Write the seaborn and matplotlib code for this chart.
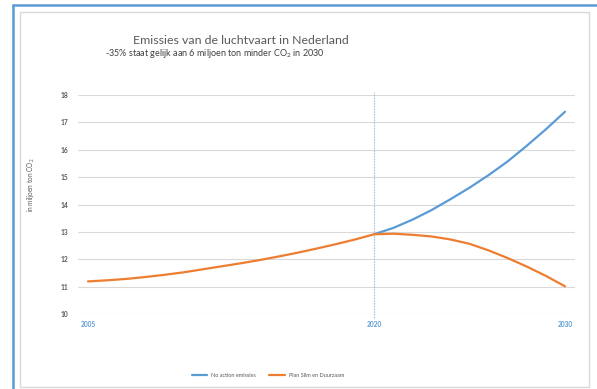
import matplotlib
matplotlib.use('Agg')
import matplotlib.pyplot as plt
import pandas as pd
import seaborn as sns
from matplotlib.lines import Line2D
from matplotlib.patches import Rectangle

# data
jaren_plan = [2005, 2006, 2007, 2008, 2009, 2010, 2011, 2012, 2013, 2014, 2015,
              2016, 2017, 2018, 2019, 2020, 2021, 2022, 2023, 2024, 2025,
              2026, 2027, 2028, 2029, 2030]
plan_slim = [11.20, 11.24, 11.29, 11.36, 11.44, 11.53, 11.64, 11.75, 11.86, 11.98, 12.11,
             12.25, 12.40, 12.56, 12.73, 12.92, 12.94, 12.90, 12.84, 12.73, 12.57,
             12.33, 12.05, 11.74, 11.40, 11.02]
jaren_no_action = [2020, 2021, 2022, 2023, 2024, 2025, 2026, 2027, 2028, 2029, 2030]
no_action = [12.92, 13.15, 13.45, 13.80, 14.20, 14.62, 15.08, 15.58, 16.15, 16.75, 17.39]
x_ticks = [2005, 2020, 2030]
y_ticks = [10, 11, 12, 13, 14, 15, 16, 17, 18]

df = pd.concat([
    pd.DataFrame({'jaar': jaren_no_action, 'uitstoot': no_action, 'scenario': 'No action emissies'}),
    pd.DataFrame({'jaar': jaren_plan, 'uitstoot': plan_slim, 'scenario': 'Plan Slim en Duurzaam'}),
])

sns.set_style('white')
plt.rcParams['font.family'] = ['Lato', 'DejaVu Sans']
plt.rcParams['mathtext.fontset'] = 'custom'
plt.rcParams['mathtext.rm'] = 'Lato'

W, H = 597, 389
fig = plt.figure(figsize=(W / 100, H / 100), dpi=100)
ax = fig.add_axes([78 / W, 1 - 314.3 / H, (575 - 78) / W, (314.3 - 95) / H])

sns.lineplot(data=df, x='jaar', y='uitstoot', hue='scenario',
             palette=['#5B9BD5', '#ED7D31'], linewidth=1.6, ax=ax, legend=False)

ax.axvline(2020, ymin=-0.015, ymax=1.013, color='#9DC3E6', linestyle=(0, (1.5, 1)),
           linewidth=0.8, clip_on=False, zorder=1)

ax.set_xlim(2004.476, 2030.524)
ax.set_ylim(10, 18)
ax.set_xticks(x_ticks)
ax.set_yticks(y_ticks)
ax.set_xticklabels([str(t) for t in x_ticks], color='#5B9BD5', fontsize=4.8, fontweight='bold')
ax.set_yticklabels([str(t) for t in y_ticks], color='#595959', fontsize=4.8, fontweight='bold')
ax.tick_params(axis='x', length=0, pad=5)
ax.tick_params(axis='y', length=0, pad=7)
ax.grid(axis='y', color='#D9D9D9', linewidth=0.8)
ax.grid(axis='x', visible=False)
for s in ax.spines.values():
    s.set_visible(False)
ax.set_xlabel('')
ax.set_ylabel('in miljoen ton CO$_2$', color='#595959', fontsize=4.7)
ax.yaxis.set_label_coords(-0.083, 0.59)

fig.text(241 / W, 1 - 40 / H, 'Emissies van de luchtvaart in Nederland',
         ha='center', va='center', fontsize=8.9, color='#595959')
fig.text(214.5 / W, 1 - 53 / H, '-35% staat gelijk aan 6 miljoen ton minder CO$_2$ in 2030',
         ha='center', va='center', fontsize=6.5, color='#404040')

handles = [Line2D([], [], color='#5B9BD5', linewidth=1.6),
           Line2D([], [], color='#ED7D31', linewidth=1.6)]
fig.legend(handles, ['No action emissies', 'Plan Slim en Duurzaam'],
           loc='center', bbox_to_anchor=(268 / W, 1 - 375.7 / H), ncol=2,
           frameon=False, fontsize=4.0, labelcolor='#595959',
           handlelength=2.8, columnspacing=2.4, handletextpad=0.7)

# frames
fig.patches.append(Rectangle((20 / W, 1 - 387 / H), (589 - 20) / W, (387 - 12) / H,
                             transform=fig.transFigure, fill=False,
                             edgecolor='#D9D9D9', linewidth=1.0))
fig.lines.append(Line2D([13 / W, 13 / W], [0, 1 - 5 / H], transform=fig.transFigure,
                        color='#5B9BD5', linewidth=1.8))
fig.lines.append(Line2D([13 / W, 1], [1 - 5 / H, 1 - 5 / H], transform=fig.transFigure,
                        color='#5B9BD5', linewidth=1.8))

fig.savefig('out.png', dpi=100)
